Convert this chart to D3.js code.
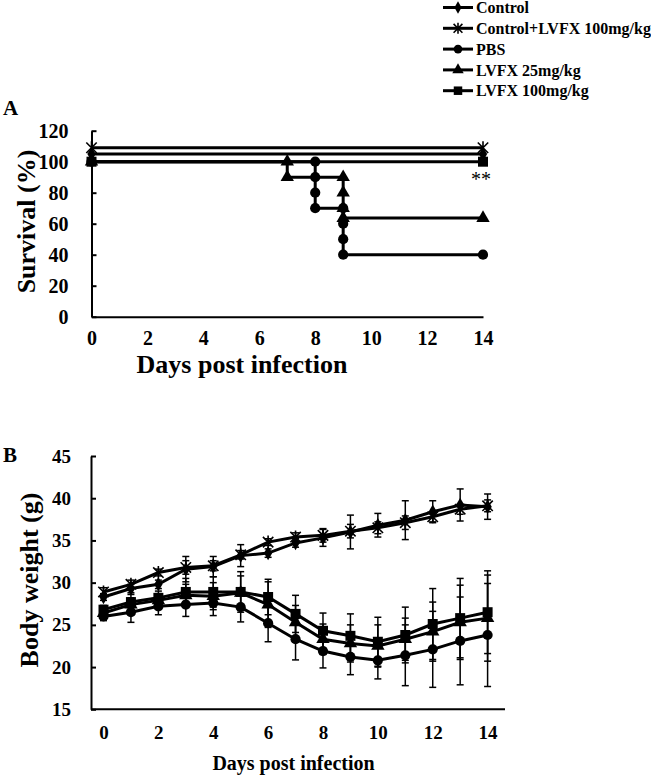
<!DOCTYPE html>
<html><head><meta charset="utf-8">
<script src="https://cdn.jsdelivr.net/npm/d3@7"></script>
<style>
html,body{margin:0;padding:0;background:#fff;}
svg{display:block;font-family:"Liberation Serif","Times New Roman",serif;}
</style></head>
<body>
<svg id="c" width="651" height="776"></svg>
<script>
// ---------- DATA ----------
const seriesNames = ["Control", "Control+LVFX 100mg/kg", "PBS", "LVFX 25mg/kg", "LVFX 100mg/kg"];
const seriesSymbols = ["diamond", "asterisk", "circle", "triangle", "square"];

// Panel A: survival (%) step points [day, value]
const survControl = [[0,105],[14,105]];
const survControlLVFX = [[0,109],[14,109]];
const survPBS = [[0,100],[8,100],[8,90],[8,80],[8,70],[9,70],[9,60],[9,50],[9,40],[14,40]];
const survLVFX25 = [[0,100],[7,100],[7,90],[9,90],[9,80],[9,70],[9,63.6],[14,63.6]];
const survLVFX100 = [[0,100],[14,100]];
const survTicksY = [0,20,40,60,80,100,120];
const dayTicks = [0,2,4,6,8,10,12,14];

// Panel B: body weight (g), mean and SD per day
const days = [0,1,2,3,4,5,6,7,8,9,10,11,12,13,14];
const bwControl     = [28.3,29.3,29.8,31.6,31.9,33.2,33.5,34.7,35.3,36.0,36.8,37.4,38.4,39.2,39.0];
const bwControlSD   = [0.4,0.5,0.5,1.5,1.2,1.3,0.5,0.5,1.0,2.0,1.4,2.3,1.3,1.9,1.5];
const bwCtrlLVFX    = [28.9,29.8,31.2,31.8,32.0,33.3,34.8,35.4,35.6,36.1,36.5,37.1,37.8,38.7,39.1];
const bwCtrlLVFXSD  = [0.5,0.5,0.4,0.8,0.6,0.5,0.4,0.5,0.8,0.8,0.7,0.8,0.6,0.6,0.7];
const bwPBS         = [26.0,26.5,27.2,27.4,27.6,27.1,25.2,23.3,21.9,21.2,20.8,21.4,22.1,23.1,23.8];
const bwPBSSD       = [0.5,1.2,1.0,1.4,1.5,1.75,2.2,2.45,2.0,2.1,2.2,3.6,4.5,5.2,6.1];
const bwLVFX25      = [26.4,27.4,27.9,28.5,28.4,28.8,27.4,25.3,23.3,22.8,22.5,23.3,24.2,25.3,25.8];
const bwLVFX25SD    = [0.6,0.8,0.8,1.3,1.6,2.0,2.7,2.0,1.8,2.2,2.5,2.5,3.5,4.4,5.1];
const bwLVFX100     = [26.8,27.7,28.2,28.9,28.9,28.9,28.3,26.3,24.3,23.7,23.0,23.8,25.1,25.8,26.5];
const bwLVFX100SD   = [0.5,0.9,0.8,1.6,1.8,2.4,2.1,2.2,2.1,2.6,2.9,3.3,4.2,4.7,4.9];
const bwTicksY = [15,20,25,30,35,40,45];

// ---------- DRAW ----------
const svg = d3.select("#c");
const FONT = '"Liberation Serif","Times New Roman",serif';

function marker(g, type, x, y, k) {
  k = k || 1;
  if (type === "asterisk") {
    const s = 5.2*k;
    g.append("path")
      .attr("d", `M${x-s},${y-s}L${x+s},${y+s}M${x-s},${y+s}L${x+s},${y-s}M${x},${y-s*1.25}L${x},${y+s*1.25}`)
      .attr("stroke","#000").attr("stroke-width",1.6).attr("fill","none");
    return;
  }
  const map = {circle:[d3.symbolCircle,82], square:[d3.symbolSquare,100], triangle:[d3.symbolTriangle,78], diamond:[d3.symbolDiamond,60]};
  const [sym, size] = map[type];
  g.append("path").attr("d", d3.symbol().type(sym).size(size*k*k)())
    .attr("transform", `translate(${x},${y})`).attr("fill","#000");
}

// ----- Legend -----
const leg = svg.append("g");
seriesNames.forEach((n,i) => {
  const y = 7.5 + i*20.8;
  leg.append("line").attr("x1",443).attr("x2",473).attr("y1",y).attr("y2",y)
    .attr("stroke","#000").attr("stroke-width",3);
  marker(leg, seriesSymbols[i], 458, y, 0.85);
  leg.append("text").attr("x",476).attr("y",y).attr("dy","0.35em")
    .attr("font-size",16).attr("font-weight","bold").text(n);
});

// ----- Panel A -----
const xA = d3.scaleLinear().domain([0,14]).range([91.5,483]);
const yA = d3.scaleLinear().domain([0,120]).range([316.7,130.7]);
const gA = svg.append("g");
gA.append("text").attr("x",3).attr("y",115).attr("font-size",21).attr("font-weight","bold").text("A");

const axAy = gA.append("g").attr("transform",`translate(${xA(0)},0)`)
  .call(d3.axisLeft(yA).tickValues(survTicksY).tickSize(-5).tickSizeOuter(0).tickPadding(23));
const axAx = gA.append("g").attr("transform",`translate(0,${yA(0)})`)
  .call(d3.axisBottom(xA).tickValues(dayTicks).tickSize(0).tickSizeOuter(0).tickPadding(14));
[axAy, axAx].forEach(a => {
  a.selectAll(".domain").attr("stroke","#000").attr("stroke-width",2);
  a.selectAll(".tick line").attr("stroke","#000").attr("stroke-width",2);
  a.selectAll("text").attr("font-family",FONT).attr("font-size",20).attr("font-weight","bold").attr("fill","#000");
});

gA.append("text").attr("transform","translate(35,221.5) rotate(-90)").attr("text-anchor","middle")
  .attr("font-size",26).attr("font-weight","bold").text("Survival (%)");
gA.append("text").attr("x",242).attr("y",373).attr("text-anchor","middle")
  .attr("font-size",26).attr("font-weight","bold").text("Days post infection");

const survSeries = [survControl, survControlLVFX, survPBS, survLVFX25, survLVFX100];
const lineA = d3.line().x(d=>xA(d[0])).y(d=>yA(d[1]));
survSeries.forEach((s,i) => {
  gA.append("path").attr("d", lineA(s)).attr("fill","none").attr("stroke","#000").attr("stroke-width",3);
  s.forEach(p => marker(gA, seriesSymbols[i], xA(p[0]), yA(p[1])));
});
gA.append("text").attr("x",481).attr("y",186).attr("text-anchor","middle")
  .attr("font-size",20).text("**");

// ----- Panel B -----
const xB = d3.scaleLinear().domain([0,14]).range([103.5,487.6]);
const yB = d3.scaleLinear().domain([15,45]).range([709.3,456]);
const gB = svg.append("g");
gB.append("text").attr("x",3).attr("y",462).attr("font-size",21).attr("font-weight","bold").text("B");

const axBy = gB.append("g").attr("transform",`translate(91,0)`)
  .call(d3.axisLeft(yB).tickValues(bwTicksY).tickSize(-5).tickSizeOuter(0).tickPadding(20));
const axBx = gB.append("g").attr("transform",`translate(0,${yB(15)})`)
  .call(d3.axisBottom(xB).tickValues(dayTicks).tickSize(0).tickSizeOuter(0).tickPadding(16));
axBx.select(".domain").remove();
gB.append("line").attr("x1",91).attr("x2",505).attr("y1",yB(15)).attr("y2",yB(15))
  .attr("stroke","#000").attr("stroke-width",2);
[axBy, axBx].forEach(a => {
  a.selectAll(".domain").attr("stroke","#000").attr("stroke-width",2);
  a.selectAll(".tick line").attr("stroke","#000").attr("stroke-width",2);
  a.selectAll("text").attr("font-family",FONT).attr("font-size",19).attr("font-weight","bold").attr("fill","#000");
});
gB.append("text").attr("transform","translate(38,580) rotate(-90)").attr("text-anchor","middle")
  .attr("font-size",26).attr("font-weight","bold").text("Body weight (g)");
gB.append("text").attr("x",293.5).attr("y",770).attr("text-anchor","middle")
  .attr("font-size",20).attr("font-weight","bold").text("Days post infection");

const bwMeans = [bwControl, bwCtrlLVFX, bwPBS, bwLVFX25, bwLVFX100];
const bwSDs = [bwControlSD, bwCtrlLVFXSD, bwPBSSD, bwLVFX25SD, bwLVFX100SD];
const lineB = d3.line().x((d,i)=>xB(days[i])).y(d=>yB(d));
bwMeans.forEach((m,si) => {
  const g = gB.append("g");
  m.forEach((v,i) => {
    const x = xB(days[i]), y1 = yB(v + bwSDs[si][i]), y2 = yB(v - bwSDs[si][i]);
    g.append("line").attr("x1",x).attr("x2",x).attr("y1",y1).attr("y2",y2).attr("stroke","#000").attr("stroke-width",1.5);
    [y1,y2].forEach(yy => g.append("line").attr("x1",x-3.5).attr("x2",x+3.5).attr("y1",yy).attr("y2",yy).attr("stroke","#000").attr("stroke-width",1.5));
  });
  g.append("path").attr("d", lineB(m)).attr("fill","none").attr("stroke","#000").attr("stroke-width",3);
  m.forEach((v,i) => marker(g, seriesSymbols[si], xB(days[i]), yB(v)));
});
</script>
</body></html>
